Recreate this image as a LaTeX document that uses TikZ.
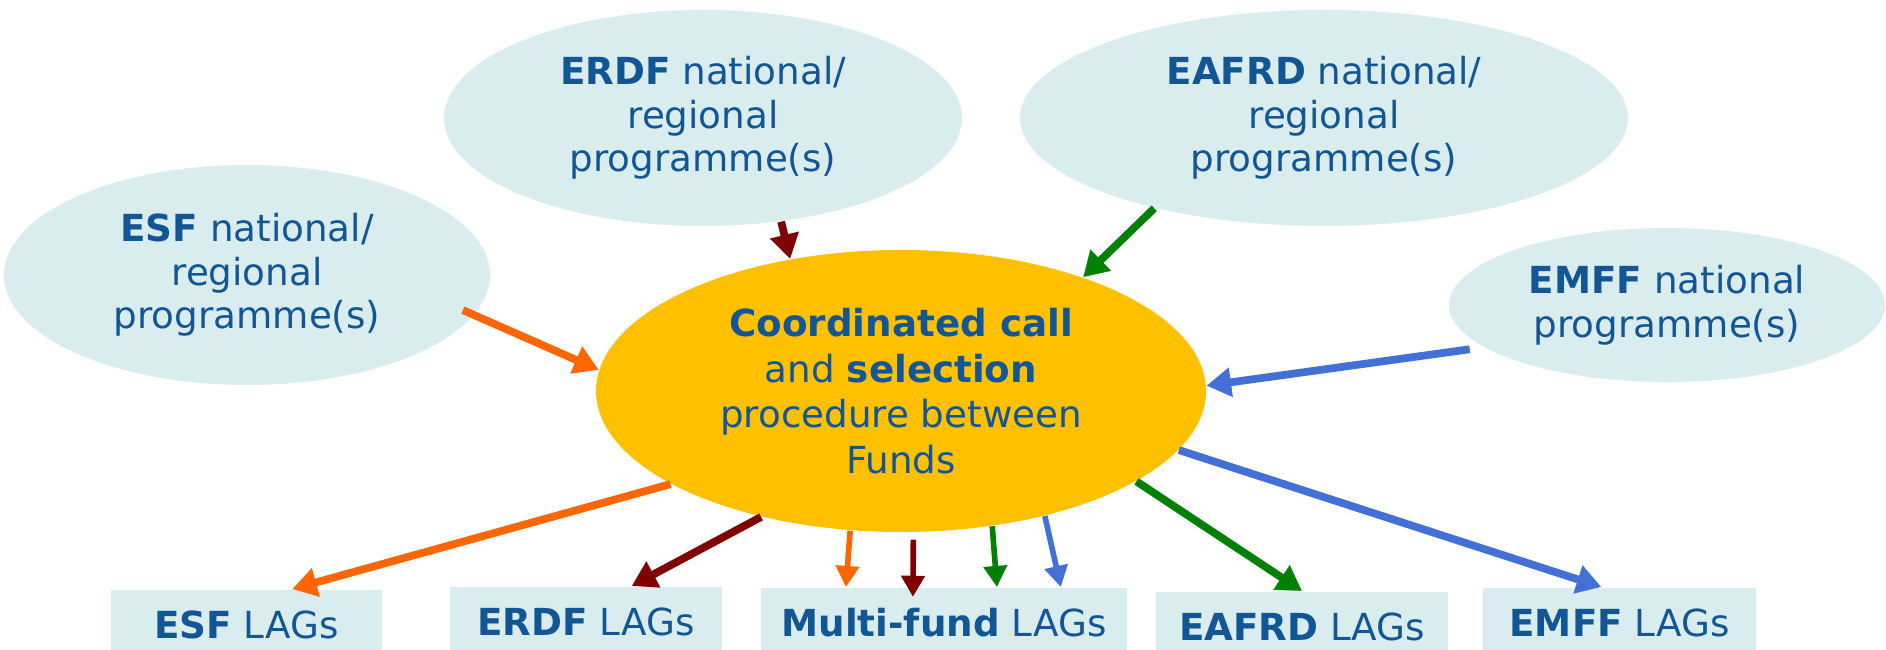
\documentclass[tikz,border=0pt]{standalone}
\usepackage{fontspec}
\setmainfont{DejaVu Sans}
\usepackage{tikz}
\usepackage{xcolor}
\usetikzlibrary{shapes.geometric, arrows.meta, calc}

\definecolor{fundblue}{RGB}{18,86,150}
\definecolor{paleteal}{RGB}{218,237,238}
\definecolor{callgold}{RGB}{255,192,0}
\definecolor{esforange}{RGB}{255,102,0}
\definecolor{erdfred}{RGB}{128,0,0}
\definecolor{eafrdgreen}{RGB}{0,128,0}
\definecolor{emffblue}{RGB}{66,112,212}

\tikzset{
  fundtext/.style={text=fundblue, align=center, inner sep=0pt, font=\fontsize{10.6}{12.4}\selectfont},
  prog/.style={ellipse, fill=paleteal, fundtext},
  lag/.style={rectangle, fill=paleteal, fundtext, anchor=north, minimum height=0.7cm},
  flow/.style={line width=2.2pt, -{Triangle[length=7pt,width=8pt]}},
  thinflow/.style={line width=1.6pt, -{Triangle[length=6pt,width=6.5pt]}}
}

\begin{document}
\begin{tikzpicture}
\useasboundingbox (0,0) rectangle (18.86,6.49);

% Programmes
\node[prog, minimum width=4.86cm, minimum height=2.20cm] (esf) at (2.47,3.74)
    {\textbf{ESF} national/\\regional\\programme(s)};
\node[prog, minimum width=5.18cm, minimum height=2.16cm] (erdf) at (7.03,5.31)
    {\textbf{ERDF} national/\\regional\\programme(s)};
\node[prog, minimum width=6.08cm, minimum height=2.16cm] (eafrd) at (13.24,5.31)
    {\textbf{EAFRD} national/\\regional\\programme(s)};
\node[prog, minimum width=4.36cm, minimum height=1.54cm] (emff) at (16.67,3.44)
    {\textbf{EMFF} national\\programme(s)};

% Coordinated call
\node[ellipse, fill=callgold, fundtext, font=\fontsize{10.6}{13}\selectfont,
    minimum width=6.10cm, minimum height=2.82cm] (call) at (9.01,2.58)
    {\textbf{Coordinated call}\\and \textbf{selection}\\procedure between\\Funds};

% LAGs
\node[lag, minimum width=2.71cm] (esfl) at (2.465,0.60) {\textbf{ESF} LAGs};
\node[lag, minimum width=2.72cm] (erdfl) at (5.86,0.63) {\textbf{ERDF} LAGs};
\node[lag, minimum width=3.66cm] (multil) at (9.44,0.62) {\textbf{Multi-fund} LAGs};
\node[lag, minimum width=2.92cm] (eafrdl) at (13.02,0.58) {\textbf{EAFRD} LAGs};
\node[lag, minimum width=2.73cm] (emffl) at (16.195,0.62) {\textbf{EMFF} LAGs};

% Into the call
\draw[flow, esforange, shorten <=-3.5pt] (esf.-10) -- (call.176);
\draw[flow, erdfred] (erdf.-53) -- (call.130);
\draw[flow, eafrdgreen] (eafrd.208) -- (call.32);
\draw[flow, emffblue, shorten <=4pt] (emff.193) -- (call.1);

% Out to the LAGs
\draw[flow, esforange] (call.202) -- (esfl.38);
\draw[flow, erdfred] (call.222) -- (erdfl.38);
\draw[thinflow, esforange] (call.250) -- (multil.160);
\draw[thinflow, erdfred, shorten <=2pt, shorten >=-2.8pt] (call.275) -- (multil.131);
\draw[thinflow, eafrdgreen] (call.-56) -- (multil.34);
\draw[thinflow, emffblue] (call.-41) -- (multil.17);
\draw[flow, eafrdgreen] (call.-21) -- (eafrdl.north);
\draw[flow, emffblue] (call.-12) -- (emffl.117);
\end{tikzpicture}
\end{document}
